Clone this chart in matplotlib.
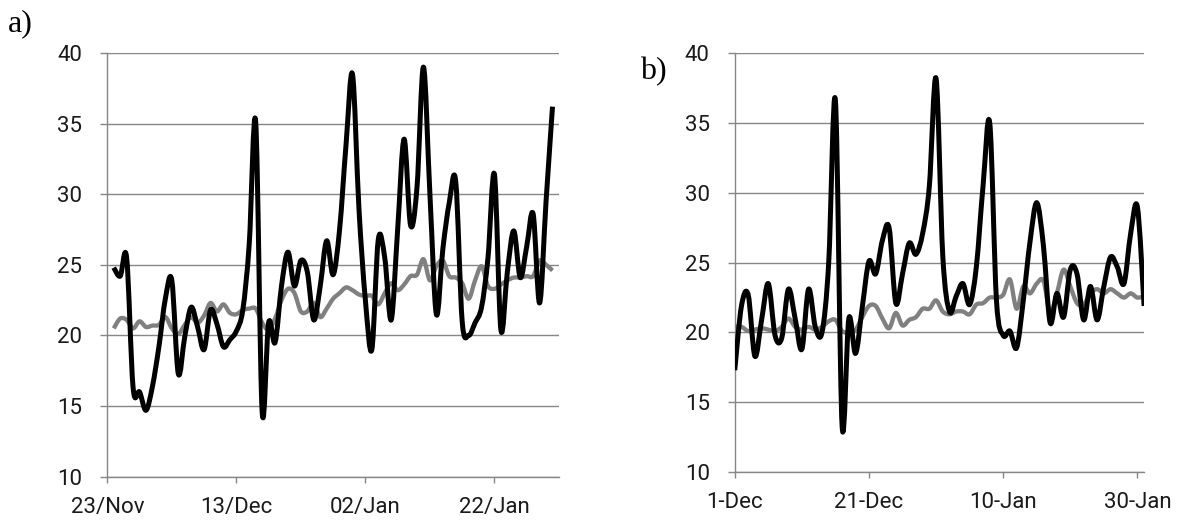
"""
Dos paneles de series diarias: valor diario (negro) y valor de referencia (gris).
a) 24/Nov - 31/Jan, b) 1-Dec - 31-Jan. Curvas suavizadas tipo Excel.
"""

import numpy as np
import matplotlib
matplotlib.use("Agg")
import matplotlib.pyplot as plt
from matplotlib.path import Path
from matplotlib.patches import PathPatch

plt.rcParams['font.family'] = ['Roboto', 'DejaVu Sans']

# ---------------------------------------------------------------------------
# Datos
# ---------------------------------------------------------------------------
# Panel a: dias desde 23/Nov
dias_a = np.arange(1, 70)
diario_a = [24.8, 24.2, 25.5, 16.3, 16.0, 14.7, 16.4, 19.2, 22.6, 23.9,
            17.3, 19.9, 22.0, 20.6, 19.0, 21.8, 20.8, 19.2, 19.7, 20.3,
            21.8, 26.5, 35.1, 14.6, 20.9, 19.5, 23.5, 25.9, 23.5, 25.3,
            24.5, 21.1, 23.5, 26.7, 24.3, 27.5, 33.5, 38.5, 29.0, 22.5,
            19.0, 26.8, 25.5, 21.1, 27.5, 33.9, 27.8, 30.5, 39.0, 30.0,
            21.5, 26.1, 29.4, 30.9, 21.0, 20.0, 20.9, 22.0, 25.5, 31.4,
            20.4, 24.5, 27.4, 24.1, 26.3, 28.6, 22.3, 29.5, 36.2]
ref_a = [20.5, 21.2, 21.1, 20.5, 21.0, 20.6, 20.7, 20.75, 21.3, 20.5,
         20.1, 20.75, 21.3, 20.9, 21.4, 22.3, 21.7, 22.2, 21.6, 21.5,
         21.8, 21.9, 21.9, 20.9, 20.4, 21.2, 22.5, 23.3, 23.0, 21.7,
         21.7, 22.3, 21.3, 21.9, 22.6, 23.0, 23.4, 23.2, 22.9, 22.8,
         22.8, 22.2, 23.0, 23.7, 23.2, 23.6, 24.2, 24.3, 25.4, 23.9,
         24.9, 25.3, 24.2, 24.1, 23.7, 22.6, 23.9, 24.9, 23.5, 23.3,
         23.6, 23.9, 24.1, 24.1, 24.2, 24.2, 25.3, 25.0, 24.6]
ticks_a = [0, 20, 40, 60]
etiquetas_a = ['23/Nov', '13/Dec', '02/Jan', '22/Jan']

# Panel b: dias desde 1-Dec
dias_b = np.arange(0, 62)
diario_b = [17.3, 21.9, 22.7, 18.3, 20.9, 23.5, 19.8, 19.6, 23.1, 21.0,
            18.8, 23.1, 20.4, 20.0, 25.0, 36.6, 13.3, 21.0, 18.5, 21.8,
            25.1, 24.2, 26.6, 27.5, 22.1, 24.2, 26.4, 25.6, 27.1, 30.5,
            38.2, 25.5, 21.5, 22.6, 23.5, 22.0, 24.7, 30.5, 35.0, 22.3,
            19.8, 20.1, 18.9, 22.3, 26.5, 29.3, 26.2, 20.7, 22.8, 21.1,
            24.5, 24.2, 20.9, 23.3, 20.9, 23.3, 25.4, 24.7, 23.5, 27.1,
            29.0, 21.9]
ref_b = [20.4, 20.4, 20.1, 20.2, 20.3, 20.2, 20.1, 20.4, 21.0, 20.4,
         20.2, 20.4, 20.2, 20.4, 20.8, 20.9, 20.1, 20.0, 20.2, 21.1,
         21.9, 21.9, 21.0, 20.3, 21.4, 20.5, 20.9, 21.1, 21.7, 21.7,
         22.3, 21.5, 21.3, 21.5, 21.5, 21.3, 22.0, 22.1, 22.5, 22.5,
         22.7, 23.8, 21.7, 23.3, 22.8, 23.5, 23.7, 21.4, 22.8, 24.5,
         23.3, 22.1, 22.0, 22.8, 23.1, 22.8, 23.1, 22.8, 22.5, 22.8,
         22.5, 22.6]
ticks_b = [0, 20, 40, 60]
etiquetas_b = ['1-Dec', '21-Dec', '10-Jan', '30-Jan']

GRIS_EJE = '#868686'


def curva_suave(x, y):
    """Path Bezier que pasa por todos los puntos (suavizado tipo Excel)."""
    x = np.asarray(x, dtype=float)
    y = np.asarray(y, dtype=float)
    n = len(x)
    verts = [(x[0], y[0])]
    codes = [Path.MOVETO]
    for i in range(n - 1):
        xp, yp = (x[i - 1], y[i - 1]) if i > 0 else (x[i], y[i])
        xn, yn = (x[i + 2], y[i + 2]) if i + 2 < n else (x[i + 1], y[i + 1])
        c1 = (x[i] + (x[i + 1] - xp) / 6, y[i] + (y[i + 1] - yp) / 6)
        c2 = (x[i + 1] - (xn - x[i]) / 6, y[i + 1] - (yn - y[i]) / 6)
        verts += [c1, c2, (x[i + 1], y[i + 1])]
        codes += [Path.CURVE4] * 3
    return Path(verts, codes)


def formatear_eje(ax, xmax, ticks, etiquetas):
    ax.set_xlim(0, xmax)
    ax.set_ylim(10, 40)
    ax.set_yticks([10, 15, 20, 25, 30, 35, 40])
    ax.set_xticks(ticks)
    ax.set_xticklabels(etiquetas)
    for lado in ['top', 'right']:
        ax.spines[lado].set_visible(False)
    for lado in ['left', 'bottom']:
        ax.spines[lado].set_color(GRIS_EJE)
        ax.spines[lado].set_linewidth(1.0)
    ax.yaxis.grid(True, color=GRIS_EJE, linewidth=1.0)
    ax.set_axisbelow(True)
    ax.tick_params(axis='y', direction='out', length=5, width=1.0,
                   color=GRIS_EJE, pad=13, labelsize=16, labelcolor='#1a1a1a')
    ax.tick_params(axis='x', direction='out', length=4.5, width=1.0,
                   color=GRIS_EJE, pad=10, labelsize=16, labelcolor='#1a1a1a')


fig = plt.figure(figsize=(11.79, 5.24), dpi=100)
ax_a = fig.add_axes([0.0910, 0.0903, 0.3831, 0.8086])
ax_b = fig.add_axes([0.6232, 0.0992, 0.3472, 0.7990])

for ax, dias, diario, ref in [(ax_a, dias_a, diario_a, ref_a),
                              (ax_b, dias_b, diario_b, ref_b)]:
    ax.add_patch(PathPatch(curva_suave(dias, ref), fill=False,
                           edgecolor='#808080', linewidth=3.1,
                           joinstyle='round', capstyle='butt', zorder=3))
    ax.add_patch(PathPatch(curva_suave(dias, diario), fill=False,
                           edgecolor='black', linewidth=3.6,
                           joinstyle='round', capstyle='butt', zorder=4))

formatear_eje(ax_a, 70, ticks_a, etiquetas_a)
formatear_eje(ax_b, 61, ticks_b, etiquetas_b)

fig.text(8 / 1179, 1 - 24 / 524, 'a)', family='Liberation Serif',
         fontsize=23, va='center', ha='left')
fig.text(640 / 1179, 1 - 72 / 524, 'b)', family='Liberation Serif',
         fontsize=23, va='center', ha='left')

fig.savefig('out.png', dpi=100)
